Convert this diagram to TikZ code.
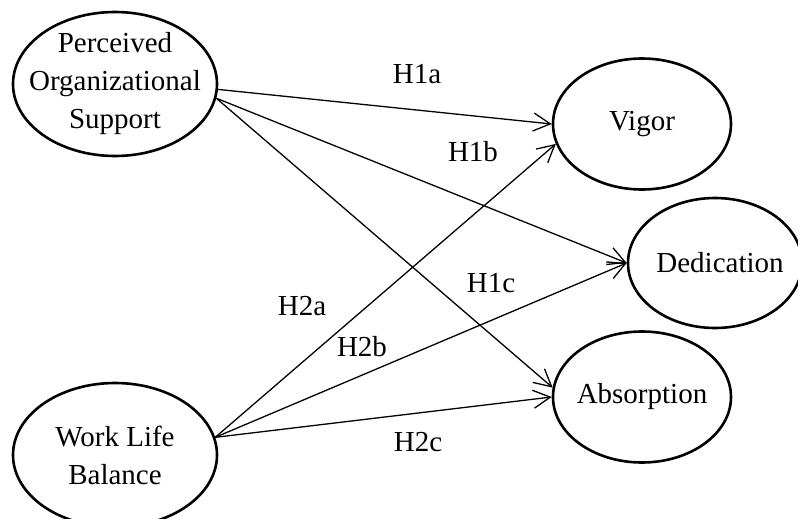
\documentclass[tikz,border=0pt]{standalone}
\usepackage{fontspec}
\setmainfont{Liberation Serif}
\usetikzlibrary{shapes.geometric,arrows.meta}
\begin{document}
\begin{tikzpicture}[x=1pt,y=-1pt,
  latent/.style={draw, ellipse, line width=2.6pt, inner sep=0pt},
  txt/.style={align=center, inner sep=0pt, font=\fontsize{29}{38}\selectfont},
  hyp/.style={inner sep=0pt, font=\fontsize{29}{38}\selectfont},
  path/.style={line width=1.3pt, -{Straight Barb[length=17pt,width=18pt,line width=1.3pt]}}]
\useasboundingbox (0,0) rectangle (798,519);
% latent variables
\node[latent, minimum width=204pt, minimum height=144pt] (pos) at (115,84) {};
\node[txt] (posT) at (pos) {Perceived\\Organizational\\Support};
\node[latent, minimum width=204pt, minimum height=144pt] (wlb) at (115,455) {};
\node[txt] (wlbT) at (wlb) {Work Life\\Balance};
\node[latent, minimum width=178pt, minimum height=131pt] (vig) at (642,124) {};
\node[txt] (vigT) at (vig) {Vigor};
\node[latent, minimum width=174pt, minimum height=130pt] (ded) at (715,263) {};
\node[txt] (dedT) at ([xshift=5pt]ded.center) {Dedication};
\node[latent, minimum width=178pt, minimum height=131pt] (abs) at (642,397) {};
\node[txt] (absT) at (abs) {Absorption};
% paths
\draw[path] (pos.-3.5) -- (vig.west);
\draw[path] (pos.-8) -- (ded.west);
\draw[path] (pos.-8) -- (abs.174.5);
\draw[path] (wlb.10.5) -- (vig.193);
\draw[path] (wlb.10.5) -- (ded.west);
\draw[path] (wlb.10.5) -- (abs.west);
% hypothesis labels
\node[hyp] (h1a) at (417,74) {H1a};
\node[hyp] (h1b) at (473,152) {H1b};
\node[hyp] (h1c) at (491,283) {H1c};
\node[hyp] (h2a) at (302,306) {H2a};
\node[hyp] (h2b) at (362,347) {H2b};
\node[hyp] (h2c) at (418,442) {H2c};
\end{tikzpicture}
\end{document}
